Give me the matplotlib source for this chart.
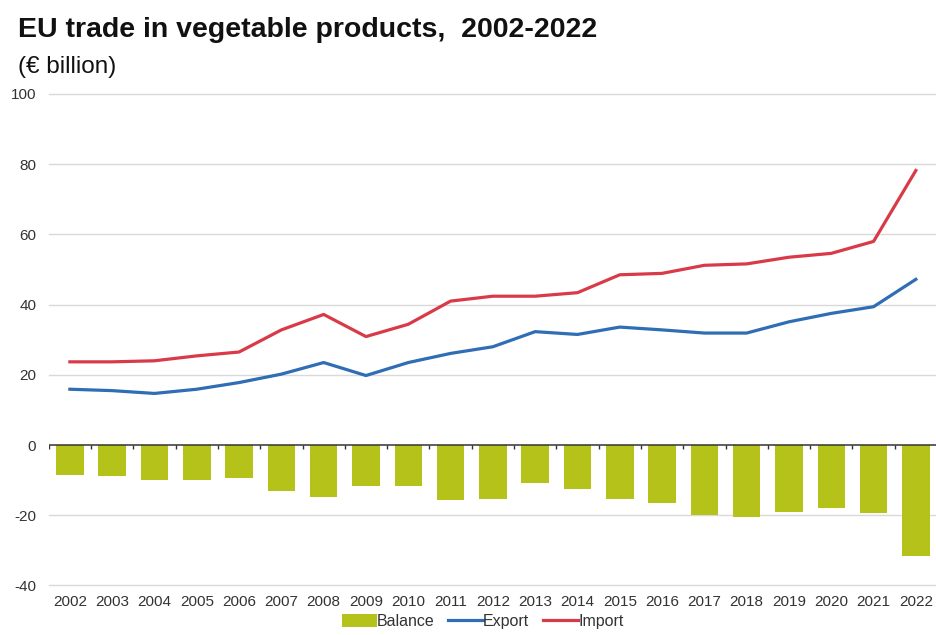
import numpy as np
import matplotlib
matplotlib.use("Agg")
from matplotlib import pyplot as plt

plt.rcParams["font.family"] = ["Liberation Sans", "DejaVu Sans"]

years = list(range(2002, 2023))
export = [15.9, 15.5, 14.7, 15.9, 17.8, 20.2, 23.5, 19.8, 23.5, 26.1, 28.0,
          32.3, 31.5, 33.6, 32.8, 31.9, 31.9, 35.1, 37.5, 39.4, 47.2]
imports = [23.7, 23.7, 24.0, 25.4, 26.5, 32.8, 37.2, 30.9, 34.4, 41.0, 42.4,
           42.4, 43.4, 48.5, 48.9, 51.2, 51.6, 53.5, 54.6, 58.0, 78.2]
balance = [-8.4, -8.8, -10.0, -10.0, -9.5, -13.0, -14.7, -11.6, -11.6, -15.7, -15.4,
           -10.7, -12.5, -15.4, -16.6, -19.8, -20.4, -19.0, -17.8, -19.3, -31.6]
y_ticks = [-40, -20, 0, 20, 40, 60, 80, 100]

BAR = "#b5c219"
EXPORT = "#2f6db5"
IMPORT = "#d93a48"
TEXT = "#333333"

fig = plt.figure(figsize=(9.37, 6.35), dpi=100)
ax = fig.add_axes([0.052, 0.078, 0.948, 0.774])

x = np.arange(len(years))
bars = ax.bar(x, balance, width=0.65, color=BAR, zorder=2)
exp_line, = ax.plot(x, export, color=EXPORT, lw=2.3, zorder=3)
imp_line, = ax.plot(x, imports, color=IMPORT, lw=2.3, zorder=3)

# grid lines everywhere except zero, which gets the dark axis line
for v in y_ticks:
    if v != 0:
        ax.axhline(v, color="#d9d9d9", lw=1.0, zorder=0, clip_on=False)
ax.axhline(0, color="#333333", lw=1.1, zorder=4)
bounds = np.arange(len(years) + 1) - 0.5
ax.vlines(bounds, -1.0, 0, color="#333333", lw=1.0, zorder=4)

ax.set_xlim(-0.5, len(years) - 0.5)
ax.set_ylim(-40, 100)
ax.set_yticks(y_ticks)
ax.set_yticklabels([str(v) for v in y_ticks])
ax.set_xticks(x)
ax.set_xticklabels([str(y) for y in years])
ax.tick_params(axis="both", length=0, labelsize=11, colors=TEXT)
ax.tick_params(axis="y", pad=9)
ax.tick_params(axis="x", pad=7)
for side in ax.spines.values():
    side.set_visible(False)

fig.text(0.019, 0.953, "EU trade in vegetable products,  2002-2022",
         fontsize=20.5, weight="bold", color="#111111", va="center")
fig.text(0.019, 0.895, "(€ billion)", fontsize=17.5, color="#111111", va="center")

fig.legend([bars, exp_line, imp_line], ["Balance", "Export", "Import"],
           loc="lower center", bbox_to_anchor=(0.515, -0.013), ncol=3, frameon=False,
           fontsize=11.5, handlelength=2.2, handleheight=0.9, handletextpad=0.0,
           columnspacing=0.85, labelcolor=TEXT)

fig.savefig("out.png", dpi=100, facecolor="white")
